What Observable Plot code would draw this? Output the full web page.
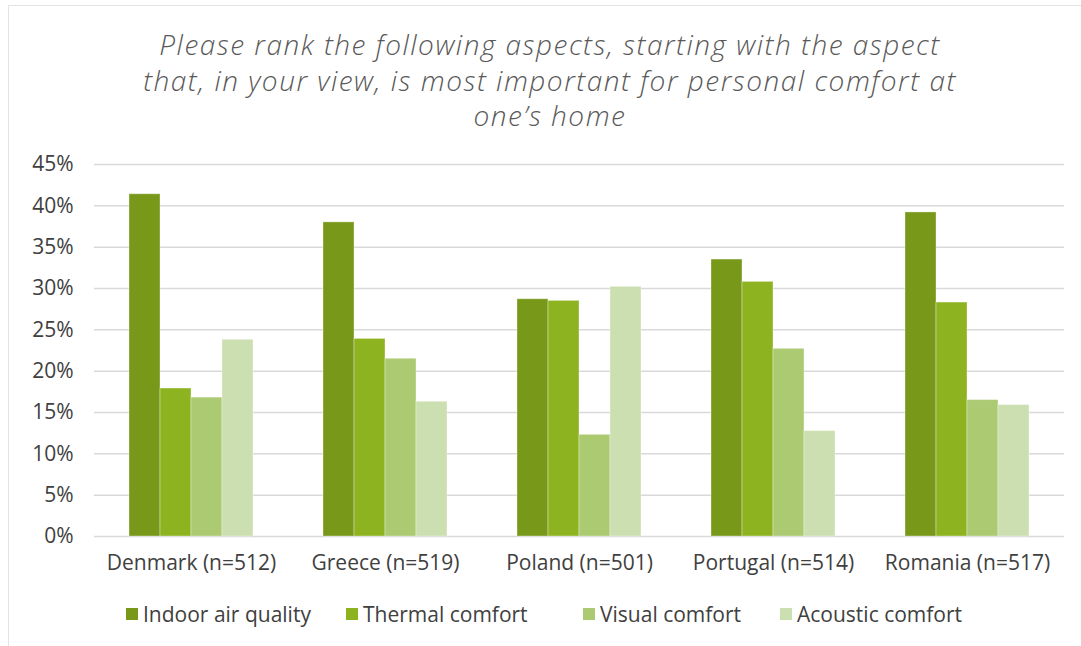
<!DOCTYPE html>
<html>
<head>
<meta charset="utf-8">
<script src="https://cdn.jsdelivr.net/npm/d3@7"></script>
<script src="https://cdn.jsdelivr.net/npm/@observablehq/plot@0.6"></script>
<style>
  html, body { margin: 0; padding: 0; background: #fff; overflow: hidden; }
  body { width: 1081px; height: 646px; position: relative; font-family: "Open Sans", "Noto Sans", sans-serif; }
  #frame { position: absolute; left: 8px; top: 5px; width: 1100px; height: 700px; border: 1.5px solid #e3e3e3; box-sizing: border-box; }
  #title { position: absolute; left: 0; top: 27px; width: 1100px; text-align: center; font-style: italic; font-weight: 300; font-size: 28px; line-height: 35.5px; color: #595959; letter-spacing: 1.5px; }
  #chart { position: absolute; left: 0; top: 140px; }
  #legend { position: absolute; left: 0; top: 601px; width: 1081px; height: 26px; font-size: 21px; color: #404040; line-height: 26px; }
  .item { position: absolute; top: 0; display: flex; align-items: center; gap: 5px; white-space: nowrap; }
  .sw { width: 12px; height: 12px; display: inline-block; }
</style>
</head>
<body>
<div id="frame"></div>
<div id="title"></div>
<div id="chart"></div>
<div id="legend"></div>
<script>
const titleLines = [
  "Please rank the following aspects, starting with the aspect",
  "that, in your view, is most important for personal comfort at",
  "one\u2019s home"
];
const countries = ["Denmark (n=512)", "Greece (n=519)", "Poland (n=501)", "Portugal (n=514)", "Romania (n=517)"];
const aspects = ["Indoor air quality", "Thermal comfort", "Visual comfort", "Acoustic comfort"];
const indoorAir = [41.4, 38.0, 28.7, 33.5, 39.2];
const thermal   = [17.9, 23.9, 28.5, 30.8, 28.3];
const visual    = [16.8, 21.5, 12.3, 22.7, 16.5];
const acoustic  = [23.8, 16.3, 30.2, 12.75, 15.9];
const yTicks = [0, 5, 10, 15, 20, 25, 30, 35, 40, 45];
const colors = ["#779818", "#8db321", "#abca72", "#ccdfb0"];
const legendLeft = [126, 346, 583, 780];

const series = [indoorAir, thermal, visual, acoustic];
const data = [];
countries.forEach((c, i) => aspects.forEach((a, j) => data.push({country: c, aspect: a, value: series[j][i]})));

document.getElementById("title").innerHTML = titleLines.map(l => `<div>${l}</div>`).join("");

const chart = Plot.plot({
  width: 1081,
  height: 442,
  marginTop: 24,
  marginBottom: 46,
  marginLeft: 93,
  marginRight: 17,
  style: {fontFamily: "'Open Sans', 'Noto Sans', sans-serif", fontSize: "21px", color: "#404040", background: "transparent"},
  fx: {domain: countries, padding: 0, label: null},
  x: {domain: aspects, paddingInner: 0, paddingOuter: 1.11, axis: null},
  y: {domain: [0, 45], label: null},
  color: {domain: aspects, range: colors},
  marks: [
    Plot.gridY(yTicks, {stroke: "#d9d9d9", strokeOpacity: 1, strokeWidth: 1.5}),
    Plot.barY(data, {fx: "country", x: "aspect", y: "value", fill: "aspect", stroke: "white", strokeOpacity: 0.35, strokeWidth: 1}),
    Plot.axisY(yTicks, {tickFormat: d => d + "%", tickSize: 0, tickPadding: 21, label: null, fontSize: 21}),
    Plot.axisFx({anchor: "bottom", tickSize: 0, tickPadding: 19, label: null, fontSize: 21})
  ]
});
document.getElementById("chart").appendChild(chart);

const legend = document.getElementById("legend");
aspects.forEach((a, i) => {
  const it = document.createElement("div");
  it.className = "item";
  it.style.left = legendLeft[i] + "px";
  it.innerHTML = `<span class="sw" style="background:${colors[i]}"></span><span>${a}</span>`;
  legend.appendChild(it);
});
</script>
</body>
</html>
